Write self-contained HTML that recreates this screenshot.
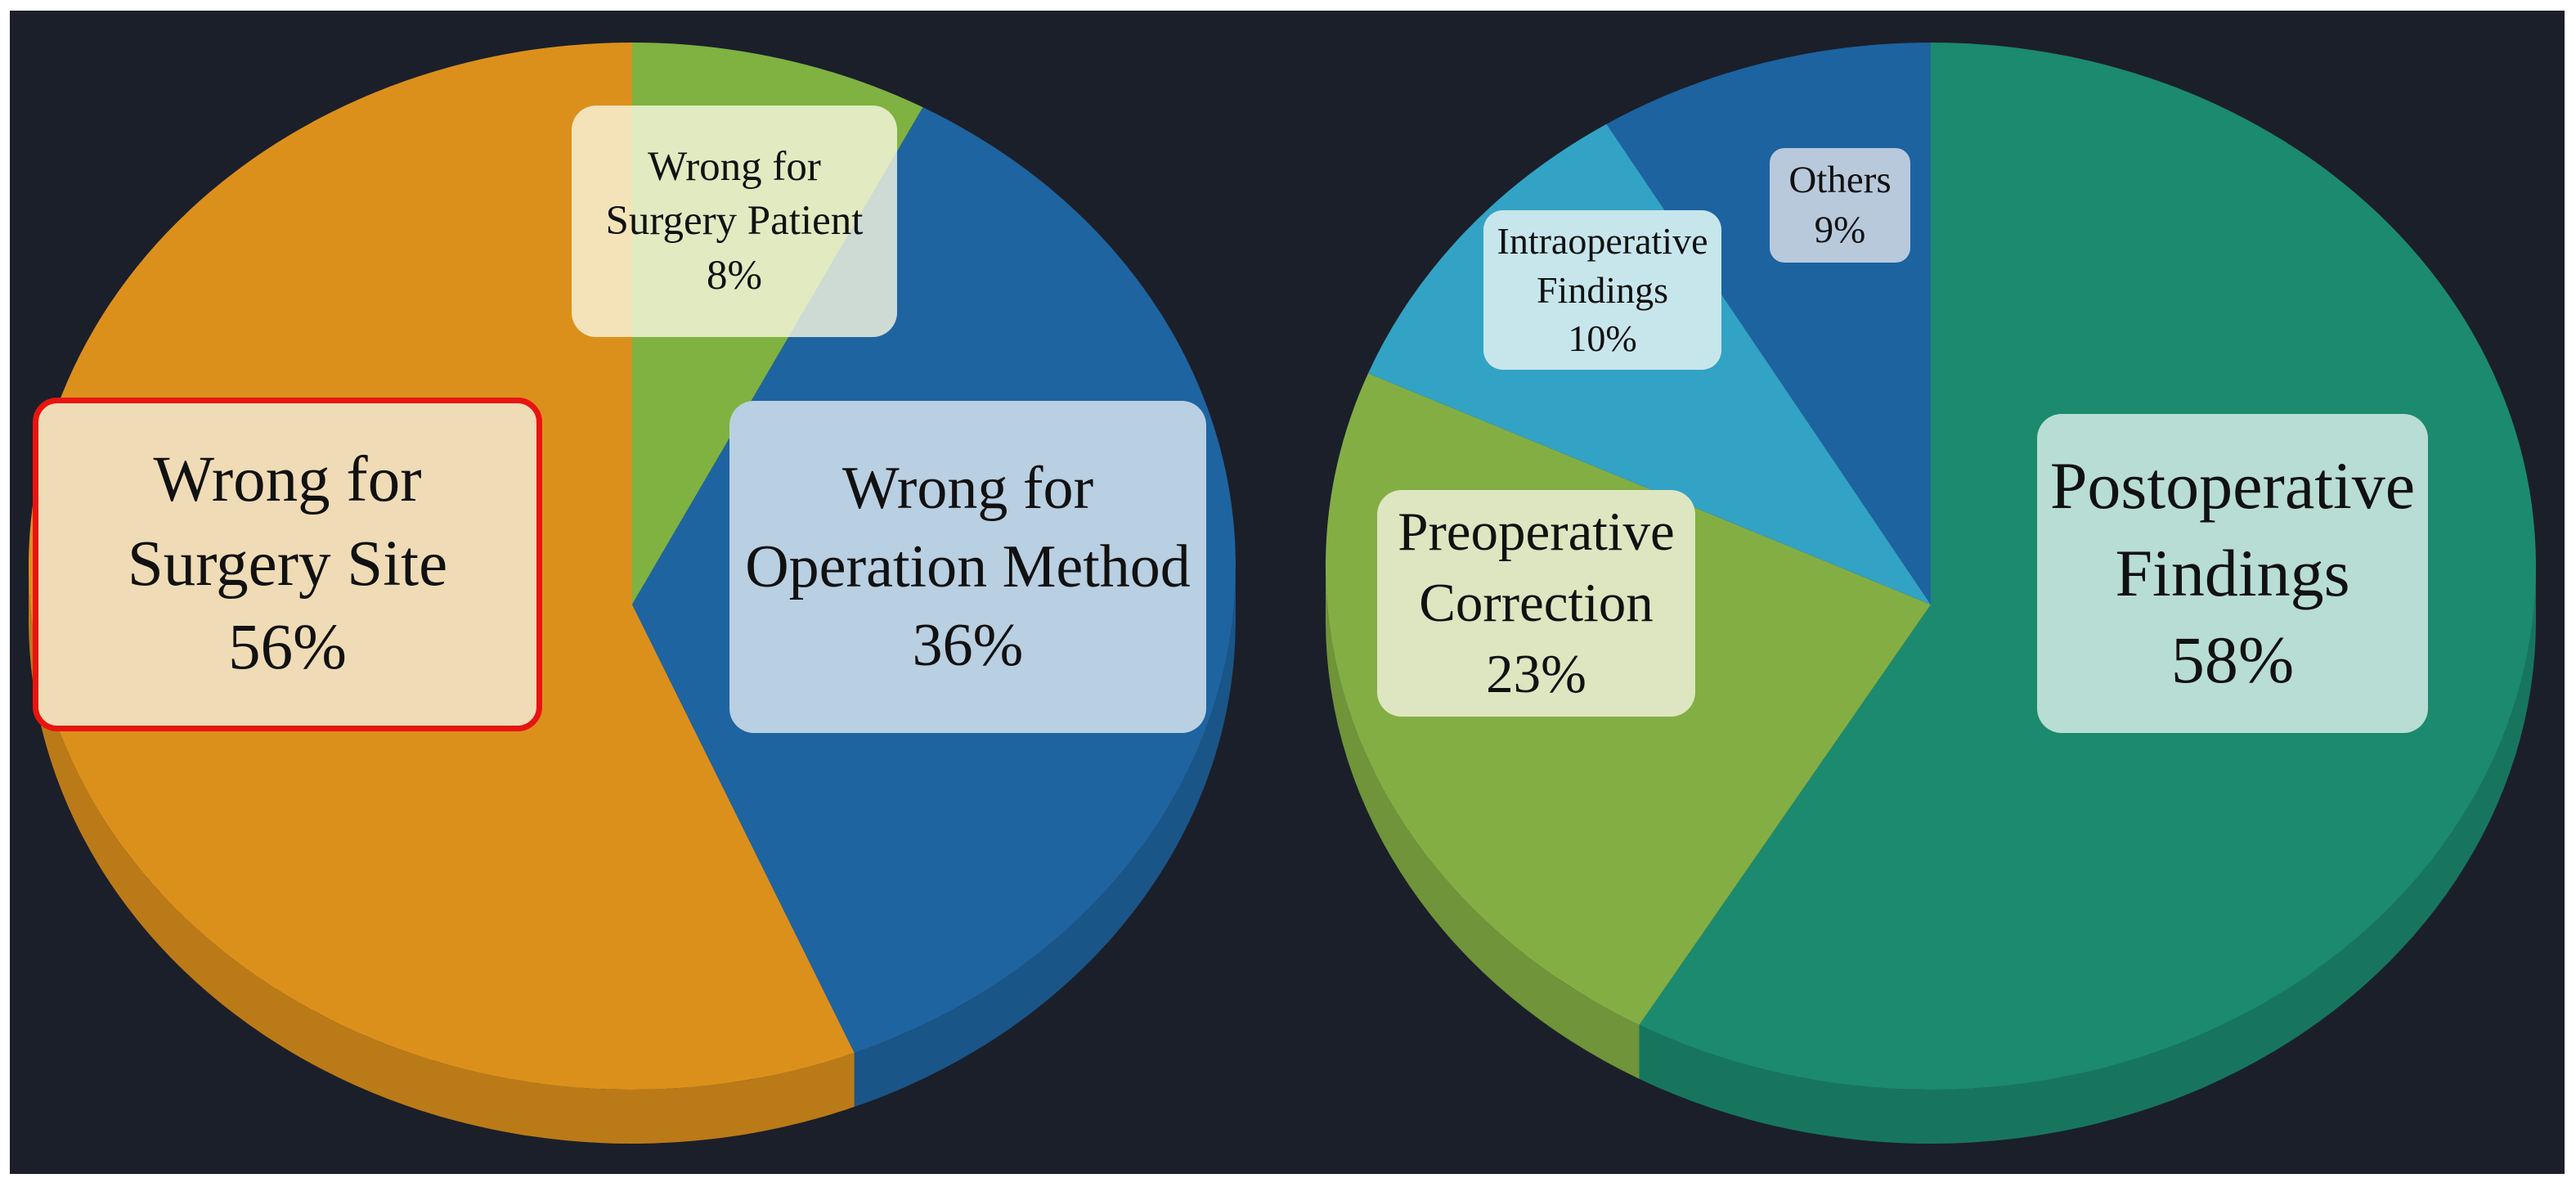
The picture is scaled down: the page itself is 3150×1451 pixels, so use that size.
<!DOCTYPE html>
<html><head><meta charset="utf-8"><style>
html,body{margin:0;padding:0;background:#fff;}
body{width:3150px;height:1451px;overflow:hidden;position:relative;font-family:"Liberation Serif",serif;}
#bg{position:absolute;left:12px;top:13px;width:3124px;height:1422px;background:#1b1f2a;}
.lbl{position:absolute;box-sizing:border-box;border-radius:30px;display:flex;align-items:center;justify-content:center;text-align:center;color:#111;line-height:1.3;white-space:nowrap;}
</style></head><body>
<div id="bg"></div>
<svg id="chart" width="3150" height="1451" style="position:absolute;left:0;top:0"></svg>

<div class="lbl" style="left:699px;top:129px;width:398px;height:283px;background:rgba(250,248,225,0.8);font-size:51px;">Wrong for<br>Surgery Patient<br>8%</div>
<div class="lbl" style="left:40px;top:486px;width:623px;height:408px;background:#efdcb6;border:7px solid #e8140f;font-size:79px;">Wrong for<br>Surgery Site<br>56%</div>
<div class="lbl" style="left:892px;top:490px;width:583px;height:406px;background:#b9cfe2;font-size:74px;">Wrong for<br>Operation Method<br>36%</div>
<div class="lbl" style="left:2164px;top:181px;width:172px;height:140px;background:#b8c9dc;font-size:47px;border-radius:18px;">Others<br>9%</div>
<div class="lbl" style="left:1814px;top:257px;width:291px;height:195px;background:#c7e6ec;font-size:46px;border-radius:24px;">Intraoperative<br>Findings<br>10%</div>
<div class="lbl" style="left:1684px;top:599px;width:389px;height:277px;background:#dde6c0;font-size:67px;">Preoperative<br>Correction<br>23%</div>
<div class="lbl" style="left:2491px;top:506px;width:478px;height:390px;background:#b8ddd4;font-size:82px;">Postoperative<br>Findings<br>58%</div>

<script>
const leftCategories = ['Wrong for Surgery Patient','Wrong for Operation Method','Wrong for Surgery Site'];
const leftValues = [8, 36, 56];
const leftColors = ['#7fb241','#1e64a0','#dc901c'];
const rightCategories = ['Postoperative Findings','Preoperative Correction','Intraoperative Findings','Others'];
const rightValues = [58, 23, 10, 9];
const rightColors = ['#1b8a6e','#83ae44','#32a3c4','#1c63a0'];

const NS='http://www.w3.org/2000/svg';
const svg=document.getElementById('chart');
function shade(hex,f){const n=parseInt(hex.slice(1),16);let r=(n>>16)&255,g=(n>>8)&255,b=n&255;return `rgb(${Math.round(r*f)},${Math.round(g*f)},${Math.round(b*f)})`;}
function pt(p,a,dy){return [p.cx+p.rx*Math.sin(a), p.cy+dy-p.ry*Math.cos(a)];}
function drawPie(p,cats,vals,cols,prefix){
  const total=vals.reduce((s,v)=>s+v,0);
  const depth=p.depth;
  let a0=0;
  vals.forEach((v,i)=>{
    const a1=a0+v/total*2*Math.PI;
    const s=Math.max(a0,Math.PI/2), e=Math.min(a1,3*Math.PI/2);
    if(e>s){
      const p0=pt(p,s,0),p1=pt(p,e,0),p2=pt(p,e,depth),p3=pt(p,s,depth);
      const path=document.createElementNS(NS,'path');
      path.setAttribute('d',`M${p0} A${p.rx},${p.ry} 0 ${e-s>Math.PI?1:0} 1 ${p1} L${p2} A${p.rx},${p.ry} 0 ${e-s>Math.PI?1:0} 0 ${p3} Z`);
      path.setAttribute('fill',shade(cols[i],0.85));
      
      
      svg.appendChild(path);
    }
    a0=a1;
  });
  a0=0;
  vals.forEach((v,i)=>{
    const a1=a0+v/total*2*Math.PI;
    const s=pt(p,a0,0),e=pt(p,a1,0);
    const path=document.createElementNS(NS,'path');
    path.setAttribute('d',`M${p.ax},${p.ay} L${s} A${p.rx},${p.ry} 0 ${a1-a0>Math.PI?1:0} 1 ${e} Z`);
    path.setAttribute('fill',cols[i]);
    
    
    svg.appendChild(path);
    a0=a1;
  });
}
drawPie({cx:773,cy:692,rx:738,ry:640,depth:66,ax:773,ay:739},leftCategories,leftValues,leftColors,'left-pie');
drawPie({cx:2361,cy:692,rx:740,ry:640,depth:66,ax:2361,ay:739},rightCategories,rightValues,rightColors,'right-pie');
</script>
</body></html>
